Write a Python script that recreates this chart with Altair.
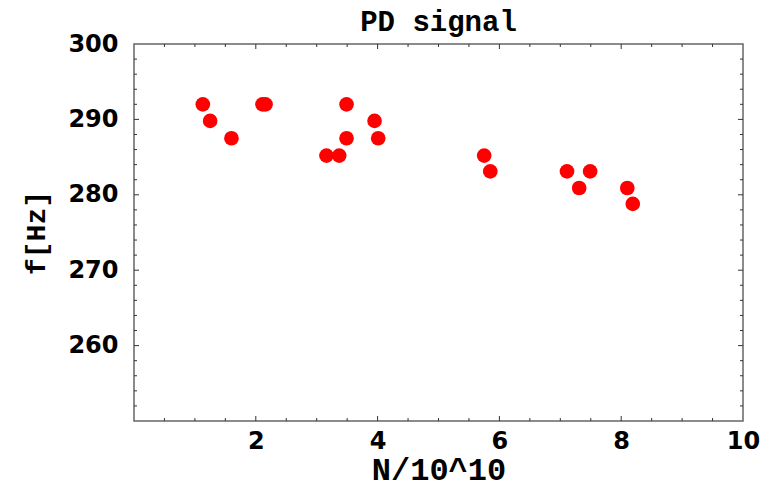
import altair as alt
import pandas as pd

# Measured points: particle number N (units of 1e10) and PD signal frequency f in Hz
n_values = [1.13, 1.25, 1.60, 2.11, 2.16, 3.16, 3.37, 3.49, 3.49, 3.95, 4.01,
            5.75, 5.85, 7.11, 7.31, 7.49, 8.10, 8.19]
f_values = [292.0, 289.8, 287.5, 292.0, 292.0, 285.2, 285.2, 292.0, 287.5, 289.8, 287.5,
            285.2, 283.1, 283.1, 280.9, 283.1, 280.9, 278.8]

x_labels = [2, 4, 6, 8, 10]
y_labels = [260, 270, 280, 290, 300]
x_major_ticks = [2, 4, 6, 8]
x_minor_ticks = [0.5, 1, 1.5, 2.5, 3, 3.5, 4.5, 5, 5.5, 6.5, 7, 7.5, 8.5, 9, 9.5]
y_major_ticks = [260, 270, 280, 290]
y_minor_ticks = [252, 254, 256, 258, 262, 264, 266, 268, 272, 274, 276, 278,
                 282, 284, 286, 288, 292, 294, 296, 298]

W, H = 609, 377
MAJOR, MINOR = 5, 3
TICK_COLOR = "#333333"

xscale = alt.Scale(domain=[0, 10], nice=False, zero=False)
yscale = alt.Scale(domain=[250, 300], nice=False, zero=False)

x_axis = alt.Axis(
    values=x_labels, format="d", title="N/10^10",
    domain=False, ticks=False, grid=False, labelFlush=False,
    labelFont="DejaVu Sans", labelFontWeight="bold", labelFontSize=24,
    labelColor="#000000", labelPadding=8,
    titleFont="Liberation Mono", titleFontWeight="bold", titleFontSize=32,
    titleColor="#000000", titlePadding=1)
y_axis = alt.Axis(
    values=y_labels, format="d", title="f[Hz]",
    domain=False, ticks=False, grid=False, labelFlush=False,
    labelFont="DejaVu Sans", labelFontWeight="bold", labelFontSize=24,
    labelColor="#000000", labelPadding=16,
    titleFont="Liberation Mono", titleFontWeight="bold", titleFontSize=28,
    titleColor="#000000", titlePadding=17)

points_df = pd.DataFrame({"N": n_values, "f": f_values})

points = alt.Chart(points_df).mark_circle(color="#ff0000", opacity=1, size=215).encode(
    x=alt.X("N:Q", scale=xscale, axis=x_axis),
    y=alt.Y("f:Q", scale=yscale, axis=y_axis),
)


def x_ticks(values, length, side):
    df = pd.DataFrame({"v": values})
    if side == "bottom":
        y0, y1 = H, H - length
    else:
        y0, y1 = 0, length
    return alt.Chart(df).mark_rule(color=TICK_COLOR, strokeWidth=1).encode(
        x=alt.X("v:Q", scale=xscale, axis=x_axis),
        y=alt.value(y0), y2=alt.value(y1))


def y_ticks(values, length, side):
    df = pd.DataFrame({"v": values})
    if side == "left":
        x0, x1 = 0, length
    else:
        x0, x1 = W, W - length
    return alt.Chart(df).mark_rule(color=TICK_COLOR, strokeWidth=1).encode(
        y=alt.Y("v:Q", scale=yscale, axis=y_axis),
        x=alt.value(x0), x2=alt.value(x1))


ticks = [
    x_ticks(x_major_ticks, MAJOR, "bottom"), x_ticks(x_minor_ticks, MINOR, "bottom"),
    x_ticks(x_major_ticks, MAJOR, "top"), x_ticks(x_minor_ticks, MINOR, "top"),
    y_ticks(y_major_ticks, MAJOR, "left"), y_ticks(y_minor_ticks, MINOR, "left"),
    y_ticks(y_major_ticks, MAJOR, "right"), y_ticks(y_minor_ticks, MINOR, "right"),
]

chart = alt.layer(points, *ticks).properties(
    width=W, height=H,
    background="#ffffff",
    title=alt.TitleParams("PD signal", font="Liberation Mono", fontWeight="bold",
                          fontSize=29, color="#000000", anchor="middle", offset=-5),
    autosize=alt.AutoSizeParams(type="none"),
    padding={"left": 134, "top": 44, "right": 26, "bottom": 68},
).configure_view(stroke="#666666", strokeWidth=1.5)

chart.save("out.html", embed_options={"renderer": "svg", "actions": False})
